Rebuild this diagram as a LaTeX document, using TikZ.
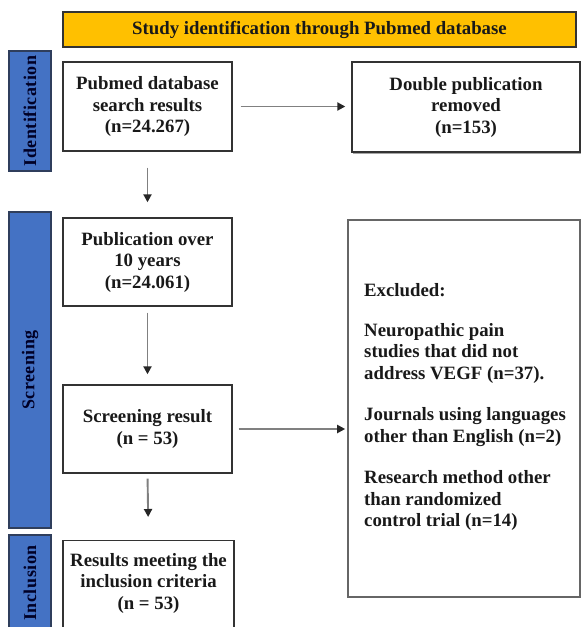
\documentclass[tikz,border=0pt]{standalone}
\usepackage{fontspec}
\setmainfont{Liberation Serif}
\usetikzlibrary{arrows.meta,shadows}
\definecolor{gold}{HTML}{FFC000}
\definecolor{barblue}{HTML}{4472C4}
\definecolor{bardark}{HTML}{2F3E5C}
\definecolor{boxline}{HTML}{333333}
\definecolor{arrline}{HTML}{808080}
\begin{document}
\begin{tikzpicture}[x=1pt,y=-1pt,
  every node/.style={font=\bfseries\fontsize{18.8}{21.5}\selectfont, text=black!90},
  flowbox/.style={draw=boxline, line width=1.4pt, fill=white, align=center, inner sep=0pt},
  sidebar/.style={draw=bardark, line width=1.4pt, fill=barblue, inner sep=0pt},
  sidetext/.style={rotate=90, font=\bfseries\fontsize{18}{20}\addfontfeatures{LetterSpace=3}\selectfont, text=black!85!blue},
  flowarrow/.style={draw=arrline, line width=1.9pt, -{Triangle[length=8pt,width=8pt,color=black!85,fill=black!85]}}
]
\clip (0,0) rectangle (581,627);
\fill[white] (0,0) rectangle (581,627);
% title
\node[draw=boxline, line width=1.4pt, fill=gold, minimum width=513pt, minimum height=35pt, inner sep=0pt] (title) at (319.5,29.5) {Study identification through Pubmed database};
% side bars
\node[sidebar, minimum width=42pt, minimum height=120pt] (idbar) at (30,111) {};
\node[sidetext] (idtext) at (idbar.center) {Identification};
\node[sidebar, minimum width=42pt, minimum height=316pt] (scbar) at (30,370) {};
\node[sidetext] (sctext) at (scbar.center) {Screening};
\node[sidebar, minimum width=42pt, minimum height=110pt] (incbar) at (30,590) {};
\node[sidetext] (inctext) at (30,583) {Inclusion};
% boxes
\node[flowbox, minimum width=169pt, minimum height=89pt] (b1) at (147.5,106.5) {Pubmed database\\search results\\(n=24.267)};
\node[flowbox, minimum width=228pt, minimum height=90pt, drop shadow={shadow xshift=0.5pt, shadow yshift=-2pt, opacity=0.7}] (dbl) at (466,107) {Double publication\\removed\\(n=153)};
\node[flowbox, minimum width=169pt, minimum height=88pt] (b2) at (147.5,262) {Publication over\\10 years\\(n=24.061)};
\node[flowbox, minimum width=169pt, minimum height=88pt] (b3) at (147.5,429) {Screening result\\(n = 53)};
\node[flowbox, minimum width=171pt, minimum height=92pt, anchor=north] (b4) at (148.5,540) {};
\node[align=center, inner sep=0pt] (b4text) at (148.5,583) {Results meeting the\\inclusion criteria\\(n = 53)};
\node[draw=black!60, line width=1.6pt, fill=white, minimum width=232pt, minimum height=377pt, inner sep=0pt] (excl) at (464,408.5) {};
\node[align=left, anchor=west, inner sep=0pt] (excltext) at (364,407) {Excluded:\\[18pt]Neuropathic pain\\studies that did not\\address VEGF (n=37).\\[20pt]Journals using languages\\other than English (n=2)\\[20pt]Research method other\\than randomized\\control trial (n=14)};
% arrows
\draw[flowarrow, shorten <=8pt, shorten >=6pt] (b1.east) -- (dbl.west |- b1.east);
\draw[flowarrow, shorten <=16pt, shorten >=15pt] (b1.south) -- (b2.north);
\draw[flowarrow, shorten <=6pt, shorten >=10pt] (b2.south) -- (b3.north);
\draw[flowarrow, shorten <=6pt, shorten >=2pt] (b3.east) -- (b3.east -| excl.west);
\draw[flowarrow, shorten <=5pt, shorten >=23pt] (b3.south) -- (b4.north);
\end{tikzpicture}
\end{document}
